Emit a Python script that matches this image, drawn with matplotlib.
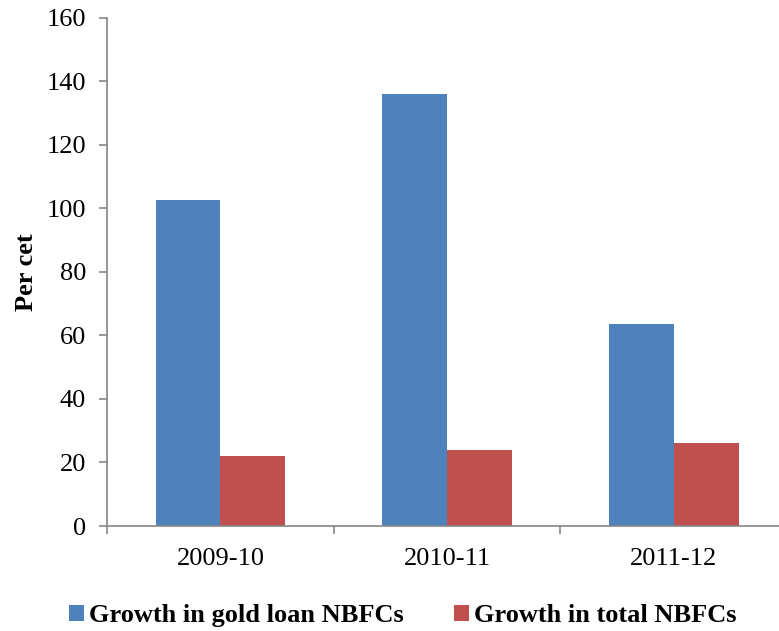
import matplotlib.pyplot as plt
import numpy as np

years = ['2009-10', '2010-11', '2011-12']
gold_loan = [102.7, 136.0, 63.6]
total_nbfc = [22.0, 23.9, 26.0]

plt.rcParams['font.family'] = ['Liberation Serif', 'DejaVu Serif']

fig = plt.figure(figsize=(7.79, 6.31), dpi=100)
ax = fig.add_axes([0.1374, 0.1664, 0.873, 0.8051])

x = np.arange(len(years))
w = 0.2857
ax.bar(x - w/2, gold_loan, w, color='#4F81BD', label='Growth in gold loan NBFCs')
ax.bar(x + w/2, total_nbfc, w, color='#C0504D', label='Growth in total NBFCs')

ax.set_xlim(-0.5, 2.5)
ax.set_ylim(0, 160)
ax.set_yticks(range(0, 161, 20))
ax.set_xticks(x)
ax.set_xticklabels(years)
ax.set_xticks([-0.5, 0.5, 1.5, 2.5], minor=True)
ax.tick_params(axis='x', which='major', length=0, pad=16, labelsize=19)
ax.tick_params(axis='x', which='minor', length=6, color='#868686', width=1.2)
ax.tick_params(axis='y', length=6, color='#868686', width=1.2, labelsize=19, pad=9)

for s in ['top', 'right']:
    ax.spines[s].set_visible(False)
for s in ['left', 'bottom']:
    ax.spines[s].set_color('#868686')
    ax.spines[s].set_linewidth(1.2)

ax.set_ylabel('Per cet', fontsize=19, fontweight='bold', labelpad=6)

fig.legend(loc='center', bbox_to_anchor=(0.517, 0.024), ncol=2, frameon=False,
           prop={'size': 19, 'weight': 'bold'}, handlelength=0.57, handleheight=0.57,
           handletextpad=0.2, columnspacing=1.9, borderpad=0)

fig.savefig('out.png', dpi=100)
